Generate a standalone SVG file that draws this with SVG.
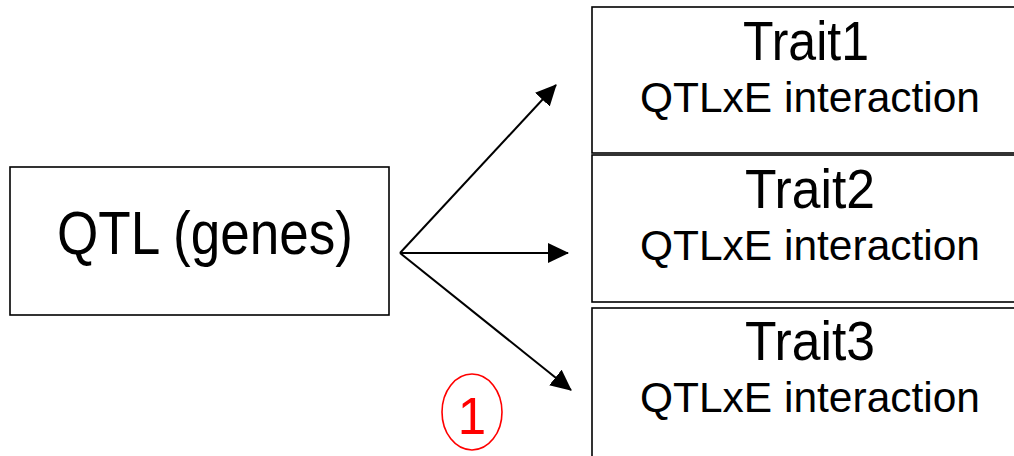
<svg xmlns="http://www.w3.org/2000/svg" width="1014" height="456" viewBox="0 0 1014 456">
<style>
.box{fill:#fff;stroke:#000;stroke-width:1.6}
.t{font-family:"Liberation Sans",Arial,sans-serif;fill:#000;text-anchor:middle}
.conn{stroke:#000;stroke-width:2;fill:none}
</style>
<defs>
<marker id="arr" markerUnits="userSpaceOnUse" markerWidth="22" markerHeight="20" refX="20" refY="10" orient="auto">
<path d="M0,0 L21,10 L0,20 Z" fill="#000"/>
</marker>
</defs>
<rect width="1014" height="456" fill="#fff"/>
<g id="qtl">
<rect class="box" x="10" y="167" width="379" height="148"/>
<text class="t" x="205" y="254" font-size="61" textLength="296" lengthAdjust="spacingAndGlyphs">QTL (genes)</text>
</g>
<g id="trait1">
<rect class="box" x="592" y="7" width="440" height="146"/>
<text class="t" x="806" y="60" font-size="55" textLength="126" lengthAdjust="spacingAndGlyphs">Trait1</text>
<text class="t" x="810" y="112" font-size="43" textLength="340" lengthAdjust="spacingAndGlyphs">QTLxE interaction</text>
</g>
<g id="trait2">
<rect class="box" x="592" y="155" width="440" height="147"/>
<text class="t" x="810" y="208" font-size="55" textLength="130" lengthAdjust="spacingAndGlyphs">Trait2</text>
<text class="t" x="810" y="260" font-size="43" textLength="340" lengthAdjust="spacingAndGlyphs">QTLxE interaction</text>
</g>
<g id="trait3">
<rect class="box" x="592" y="308" width="440" height="160"/>
<text class="t" x="810" y="360" font-size="55" textLength="130" lengthAdjust="spacingAndGlyphs">Trait3</text>
<text class="t" x="810" y="412" font-size="43" textLength="340" lengthAdjust="spacingAndGlyphs">QTLxE interaction</text>
</g>
<g id="connectors">
<line class="conn" x1="400" y1="253" x2="556" y2="85" marker-end="url(#arr)"/>
<line class="conn" x1="400" y1="253" x2="568" y2="253" marker-end="url(#arr)"/>
<line class="conn" x1="400" y1="253" x2="571" y2="390" marker-end="url(#arr)"/>
</g>
<g id="label1">
<ellipse cx="472" cy="412" rx="30" ry="38" fill="none" stroke="#f00" stroke-width="1.6"/>
<text x="472" y="434" font-family="Liberation Sans,Arial,sans-serif" font-size="51" fill="#f00" text-anchor="middle">1</text>
</g>
</svg>
